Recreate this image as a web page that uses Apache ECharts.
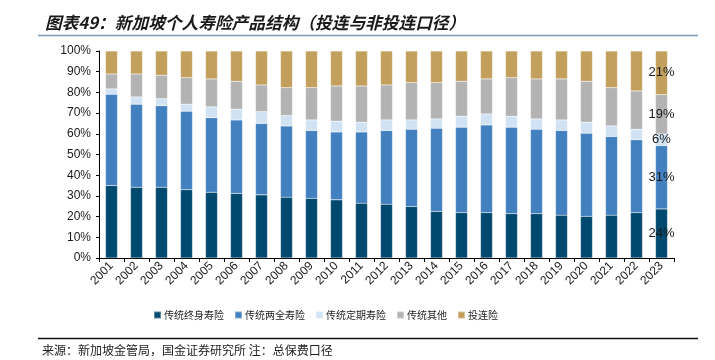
<!DOCTYPE html>
<html>
<head>
<meta charset="utf-8">
<script src="https://cdn.jsdelivr.net/npm/echarts@6/dist/echarts.min.js"></script>
<style>
html,body{margin:0;padding:0;background:#fff;}
#c{width:715px;height:360px;}
</style>
</head>
<body>
<div id="c"></div>
<script>
const years = ['2001','2002','2003','2004','2005','2006','2007','2008','2009','2010','2011','2012','2013','2014','2015','2016','2017','2018','2019','2020','2021','2022','2023'];
const wholeLife = [35.0,34.2,34.2,33.0,31.8,31.2,30.5,29.4,28.8,28.1,26.5,26.0,24.9,22.5,21.9,21.9,21.4,21.4,20.7,20.1,20.7,21.9,23.7];
const endowment = [44.1,40.1,39.4,37.9,36.0,35.5,34.5,34.4,32.8,32.8,34.4,35.6,37.3,40.2,41.3,42.4,41.8,40.8,40.9,40.2,38.0,35.2,30.6];
const termLife  = [2.6,3.5,3.4,3.4,5.2,5.2,5.7,5.0,5.1,5.2,4.7,5.1,4.5,4.5,5.3,5.3,5.3,5.0,5.1,5.3,5.1,5.1,5.6];
const otherTrad = [7.2,11.1,11.3,12.8,13.5,13.5,12.9,13.5,15.6,17.0,17.5,16.9,18.0,17.5,16.9,16.9,18.6,19.3,19.8,19.8,18.5,18.5,19.0];
const ilp       = [11.1,11.1,11.7,12.9,13.5,14.6,16.4,17.7,17.7,16.9,16.9,16.4,15.3,15.3,14.6,13.5,12.9,13.5,13.5,14.6,17.7,19.3,21.1];
const seriesNames = ['传统终身寿险','传统两全寿险','传统定期寿险','传统其他','投连险'];
const yTicks = [0,10,20,30,40,50,60,70,80,90,100];
const titleText = '图表49：新加坡个人寿险产品结构（投连与非投连口径）';
const sourceText = '来源：新加坡金管局，国金证券研究所 注：总保费口径';

const colors = ['#02496f','#4280bf','#d0e2f3','#b3b3b3','#c29f5c'];
const allData = [wholeLife, endowment, termLife, otherTrad, ilp];
const lastIdx = years.length - 1;

const chart = echarts.init(document.getElementById('c'), null, {renderer:'canvas'});
const series = allData.map((arr, si) => ({
  name: seriesNames[si],
  type: 'bar',
  stack: 'total',
  barWidth: '48%',
  itemStyle: {color: colors[si], borderColor: 'rgba(255,255,255,0.35)', borderWidth: 0.5},
  emphasis: {disabled: true},
  data: arr.map((v, i) => i === lastIdx ? {
    value: v,
    label: {
      show: true, position: 'inside',
      formatter: p => Math.round(p.value) + '%',
      color: '#1a1a1a', fontSize: 13, fontFamily: 'Liberation Sans, Arial, sans-serif'
    }
  } : v)
}));

chart.setOption({
  animation: false,
  backgroundColor: '#fff',
  title: {
    text: titleText, left: 40, top: 9,
    textStyle: {fontSize: 16.7, fontWeight: 'bold', fontStyle: 'italic', color: '#1a1a1a', fontFamily: 'Noto Sans CJK SC'}
  },
  graphic: [
    {type:'line', shape:{x1:38,y1:35.5,x2:698,y2:35.5}, style:{stroke:'#7b9bb7', lineWidth:1.5}},
    {type:'line', shape:{x1:38,y1:338.5,x2:698,y2:338.5}, style:{stroke:'#111', lineWidth:1.5}},
    {type:'text', left: 42, top: 344, style:{text: sourceText, fontSize: 12, fill:'#222', fontFamily:'Noto Sans CJK SC'}}
  ],
  legend: {
    data: seriesNames, top: 305, left: 148,
    itemWidth: 7, itemHeight: 7, itemGap: 10, icon: 'rect',
    textStyle: {fontSize: 10, color: '#222', fontFamily: 'Noto Sans CJK SC', padding:[0,0,0,-2]}
  },
  grid: {left: 99, right: 41, top: 51, bottom: 102, containLabel: false},
  xAxis: {
    type: 'category', data: years,
    axisLine: {lineStyle: {color: '#000', width: 1}},
    axisTick: {show: true, alignWithLabel: false, length: 4, lineStyle: {color: '#000'}},
    axisLabel: {rotate: 45, fontSize: 12, color: '#1a1a1a', margin: 6, fontFamily: 'Liberation Sans, Arial, sans-serif', interval: 0}
  },
  yAxis: {
    type: 'value', min: 0, max: 100, interval: 10,
    axisLine: {show: true, lineStyle: {color: '#000', width: 1}},
    axisTick: {show: true, length: 3, lineStyle: {color: '#000'}},
    splitLine: {show: false},
    axisLabel: {formatter: v => yTicks.includes(v) ? v + '%' : '', fontSize: 12, color: '#1a1a1a', margin: 8, fontFamily: 'Liberation Sans, Arial, sans-serif'}
  },
  series: series
});
</script>
</body>
</html>
